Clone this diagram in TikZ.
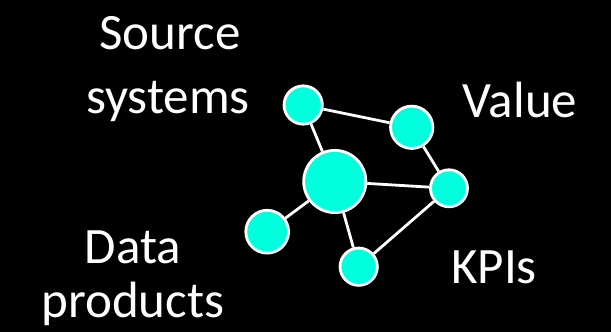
\documentclass[tikz,border=0pt]{standalone}
\usepackage{fontspec}
\setmainfont{Carlito}
\begin{document}
\begin{tikzpicture}[x=1pt,y=-1pt,
  hub/.style={circle,draw=white,line width=2.8pt,fill=teal2,inner sep=0pt,minimum size=#1},
  link/.style={draw=white,line width=2.8pt},
  lbl/.style={text=white,font=\fontsize{51}{62}\selectfont,anchor=base,inner sep=0pt}]
\definecolor{teal2}{RGB}{0,255,221}
\fill[black] (0,0) rectangle (611,332);
\useasboundingbox (0,0) rectangle (611,332);
% nodes of the graph
\node[hub=38.3pt] (src) at (303.2,105) {};
\node[hub=42.3pt] (val) at (411.7,127.3) {};
\node[hub=62.2pt] (core) at (334.8,181.5) {};
\node[hub=37pt] (kpi) at (449,188.3) {};
\node[hub=42.8pt] (dat) at (267.2,231.7) {};
\node[hub=37.3pt] (bot) at (358.7,266.7) {};
% connectors
\path[link] (src) -- (val);
\path[link] (src) -- (core);
\path[link] (val) -- (kpi);
\path[link] (core) -- (kpi);
\path[link] (core) -- (dat);
\path[link] (core) -- (bot);
\path[link] (bot) -- (kpi);
% labels
\node[lbl] (t1) at (170,49) {Source};
\node[lbl] (t2) at (168,113) {systems};
\node[lbl] (t3) at (520,117) {Value};
\node[lbl] (t4) at (494,283) {KPIs};
\node[lbl] (t5) at (133,263) {Data};
\node[lbl] (t6) at (133,317) {products};
\end{tikzpicture}
\end{document}
